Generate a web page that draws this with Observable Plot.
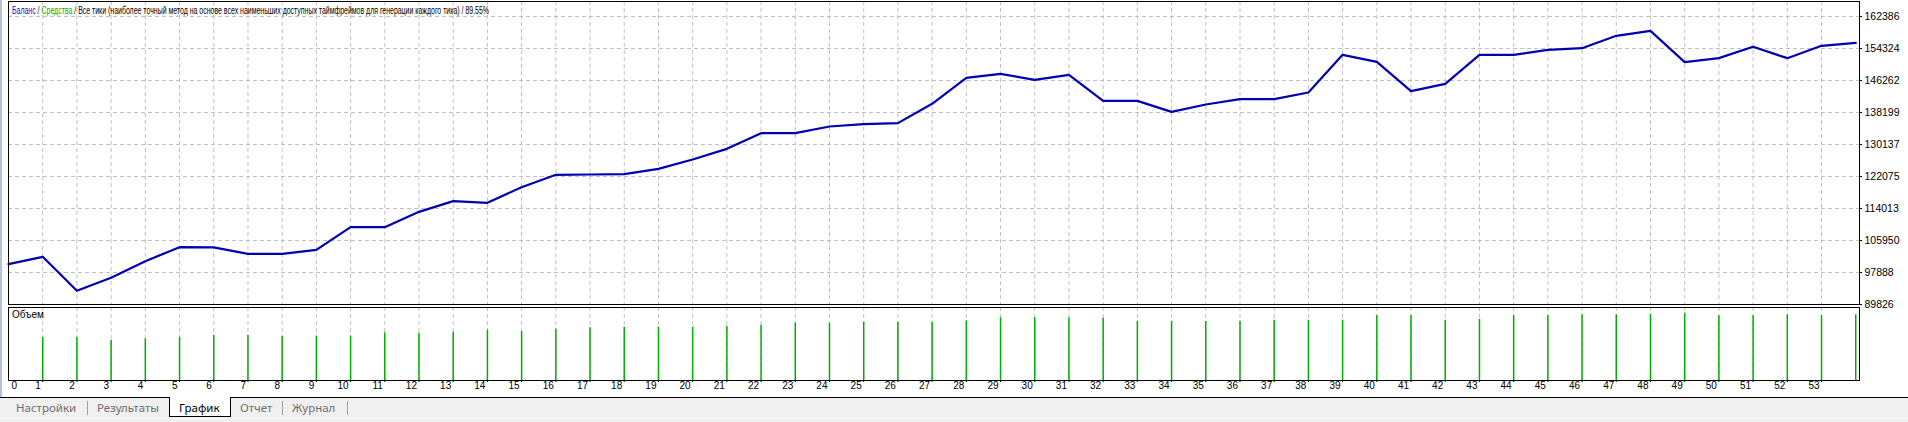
<!DOCTYPE html>
<html>
<head>
<meta charset="utf-8">
<script src="https://cdn.jsdelivr.net/npm/d3@7"></script>
<script src="https://cdn.jsdelivr.net/npm/@observablehq/plot@0.6"></script>
<style>
  html, body { margin: 0; padding: 0; background: #fff; }
  body { width: 1908px; height: 422px; overflow: hidden; position: relative; font-family: "Liberation Sans", Arial, sans-serif; }
  #leftstrip { position: absolute; left: 0; top: 0; width: 2px; height: 418px; background: #b4c4d8; }
  #main { position: absolute; left: 0; top: 0; }
  #vol { position: absolute; left: 0; top: 305px; }
  #title { position: absolute; left: 12px; top: 4px; font-size: 10.5px; line-height: 12px; white-space: nowrap; transform-origin: 0 0; color: #000; }
  #vlabel { position: absolute; left: 12px; top: 309px; font-size: 10px; line-height: 12px; color: #000; }
  #tabs { position: absolute; left: 0; top: 397px; width: 1908px; height: 20px; background: #f0f0f0; border-top: 1px solid #000; border-bottom: 1px solid #fafafa; }
  #tabsbottom { position: absolute; left: 0; top: 419px; width: 1908px; height: 3px; background: #f0f0f0; }
  .tab { position: absolute; top: 3px; font-family: "Noto Sans", "Open Sans", sans-serif; font-size: 11.5px; line-height: 14px; color: #6e6e6e; white-space: nowrap; }
  .sep { position: absolute; top: 3px; width: 1px; height: 14px; background: #a0a0a0; }
  #active { position: absolute; left: 169px; top: -1px; width: 60px; height: 19px; background: #fff; border-left: 1px solid #000; border-right: 1px solid #000; border-bottom: 1px solid #000; }
  #active span { position: absolute; left: 9px; top: 4px; font-family: "Noto Sans", "Open Sans", sans-serif; font-size: 11.5px; line-height: 14px; color: #000; }
</style>
</head>
<body>
<div id="leftstrip"></div>
<div id="main"></div>
<div id="vol"></div>
<div id="title"><span style="color:#1010c0">Баланс</span> / <span style="color:#00b000">Средства</span> / Все тики (наиболее точный метод на основе всех наименьших доступных таймфреймов для генерации каждого тика) / 89.55%</div>
<div id="vlabel">Объем</div>
<div id="tabs">
  <span class="tab" style="left:16px">Настройки</span>
  <span class="sep" style="left:87px"></span>
  <span class="tab" style="left:97px">Результаты</span>
  <div id="active"><span>График</span></div>
  <span class="tab" style="left:240px">Отчет</span>
  <span class="sep" style="left:282px"></span>
  <span class="tab" style="left:292px">Журнал</span>
  <span class="sep" style="left:347px"></span>
</div>
<div id="tabsbottom"></div>
<script>
// Trade index (x axis)
const tradeIndex = d3.range(0, 55);
// Balance after each trade
const balance = [100000, 101835, 93269, 96544, 100743, 104270, 104200, 102591, 102591, 103599,
  109309, 109309, 113172, 115860, 115441, 119388, 122495, 122580, 122664, 124007,
  126358, 129045, 132992, 132992, 134672, 135260, 135512, 140400, 146934, 147942,
  146430, 147690, 141138, 141138, 138367, 140215, 141558, 141558, 143238, 152728,
  150965, 143575, 145422, 152728, 152728, 153988, 154408, 157515, 158775, 150881,
  151889, 154744, 151889, 154996, 155752];
// Volume (lots) for trades 1..54
const volIndex = d3.range(1, 55);
const volume = [10.00, 10.00, 9.37, 9.70, 10.00, 10.47, 10.53, 10.30, 10.30, 10.30,
  11.09, 11.00, 11.23, 11.70, 11.40, 11.93, 12.26, 12.40, 12.40, 12.40,
  12.63, 12.86, 13.33, 13.33, 13.56, 13.56, 13.56, 13.88, 14.58, 14.58,
  14.58, 14.49, 13.79, 13.79, 13.72, 13.79, 14.02, 14.02, 14.02, 15.12,
  15.12, 14.02, 14.19, 15.05, 15.05, 15.28, 15.28, 15.42, 15.65, 15.05,
  15.05, 15.28, 15.05, 15.28];
// Axis tick labels
const yTicks = [89826, 97888, 105950, 114013, 122075, 130137, 138199, 146262, 154324, 162386];
const xTicks = d3.range(0, 54);
const xGrid = d3.range(1, 54);

const balanceData = tradeIndex.map((i, k) => ({i, balance: balance[k]}));
const volData = volIndex.map((i, k) => ({i, vol: volume[k]}));

const gridColor = "#c0c0c0";
const gridDash = "4,3";
const xDomain = [0, 54.11];
const W = 1908, mL = 8, mR = 49;

const main = Plot.plot({
  width: W, height: 306,
  marginTop: 1, marginBottom: 2, marginLeft: mL, marginRight: mR,
  x: {domain: xDomain, axis: null},
  y: {domain: [89826, 166164], axis: null},
  style: {background: "transparent", fontFamily: "Liberation Sans, Arial, sans-serif", overflow: "visible"},
  marks: [
    Plot.ruleY(yTicks.slice(1), {stroke: gridColor, strokeDasharray: gridDash}),
    Plot.ruleX(xGrid, {stroke: gridColor, strokeDasharray: gridDash}),
    Plot.line(balanceData, {x: "i", y: "balance", stroke: "#0000b0", strokeWidth: 2.2}),
    Plot.frame({stroke: "#000"}),
    Plot.axisY({anchor: "right", ticks: yTicks, tickSize: 2, tickFormat: () => "", label: null}),
    Plot.text(yTicks, {y: d => d, text: d => String(d), frameAnchor: "right", textAnchor: "start", dx: 5, fontSize: 10.5, fill: "#000"})
  ]
});
document.getElementById("main").appendChild(main);

const vol = Plot.plot({
  width: W, height: 92,
  marginTop: 2, marginBottom: 17, marginLeft: mL, marginRight: mR,
  x: {domain: xDomain, axis: null},
  y: {domain: [0, 16.98], axis: null},
  style: {background: "transparent", fontFamily: "Liberation Sans, Arial, sans-serif", overflow: "visible"},
  marks: [
    Plot.ruleX(xGrid, {stroke: gridColor, strokeDasharray: gridDash}),
    Plot.ruleX(volData, {x: "i", y1: 0, y2: "vol", stroke: "#00b000", strokeWidth: 1.5}),
    Plot.frame({stroke: "#000"}),
    Plot.axisX({anchor: "bottom", ticks: xGrid, tickSize: 2, tickFormat: () => "", label: null}),
    Plot.text(xTicks.slice(1), {x: d => d, text: d => String(d), frameAnchor: "bottom", textAnchor: "end", dx: -2, dy: 8, fontSize: 10, fill: "#000"}),
    Plot.text(xTicks.slice(0, 1), {x: d => d, text: d => String(d), frameAnchor: "bottom", textAnchor: "start", dx: 3, dy: 8, fontSize: 10, fill: "#000"})
  ]
});
document.getElementById("vol").appendChild(vol);

// fit title to its width in the reference
const t = document.getElementById("title");
const tw = t.getBoundingClientRect().width;
t.style.transform = `scaleX(${477 / tw})`;
</script>
</body>
</html>
